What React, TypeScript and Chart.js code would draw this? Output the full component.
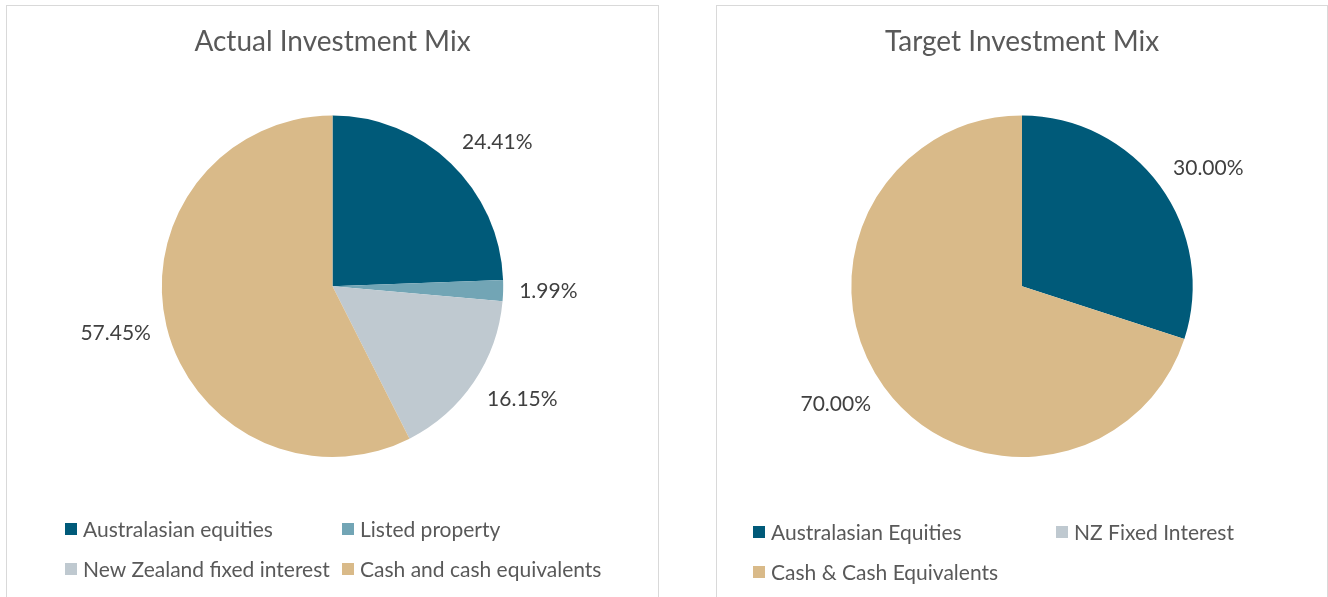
import React, { useEffect, useRef } from "react";
import { Chart, registerables } from "chart.js";

Chart.register(...registerables);

const actualTitle = "Actual Investment Mix";
const actualLabels = [
  "Australasian equities",
  "Listed property",
  "New Zealand fixed interest",
  "Cash and cash equivalents",
];
const actualValues = [24.41, 1.99, 16.15, 57.45];
const actualColors = ["#005A79", "#72A5B5", "#BFC9D0", "#D9BA89"];

const targetTitle = "Target Investment Mix";
const targetLabels = ["Australasian Equities", "NZ Fixed Interest", "Cash & Cash Equivalents"];
const targetValues = [30.0, 0, 70.0];
const targetColors = ["#005A79", "#BFC9D0", "#D9BA89"];

const FONT = "Lato, 'Open Sans', sans-serif";

const outsideLabels = {
  id: "outsideLabels",
  afterDatasetsDraw(chart: any) {
    const ctx = chart.ctx;
    const meta = chart.getDatasetMeta(0);
    const data = chart.data.datasets[0].data;
    const size = 21;
    ctx.save();
    ctx.font = `${size}px ${FONT}`;
    ctx.fillStyle = "#404040";
    ctx.textAlign = "center";
    ctx.textBaseline = "middle";
    meta.data.forEach((arc: any, i: number) => {
      const v = data[i];
      if (!v) return;
      const p = arc.getProps(["x", "y", "startAngle", "endAngle", "outerRadius"], true);
      const mid = (p.startAngle + p.endAngle) / 2;
      const R = p.outerRadius + 16;
      const ax = p.x + Math.cos(mid) * R;
      const ay = p.y + Math.sin(mid) * R;
      const text = v.toFixed(2) + "%";
      const w = ctx.measureText(text).width;
      const h = 20;
      const clamp = (t: number) => Math.max(-1, Math.min(1, t));
      const dx = (w / 2) * clamp(Math.cos(mid) / 0.5);
      const dy = (h / 2) * clamp(Math.sin(mid) / 0.7);
      ctx.fillText(text, ax + dx, ay + dy);
    });
    ctx.restore();
  },
};

const gridLegend = {
  id: "gridLegend",
  afterDraw(chart: any, _args: any, opts: any) {
    const ctx = chart.ctx;
    const labels = chart.data.labels as string[];
    const colors = chart.data.datasets[0].backgroundColor as string[];
    const cols: number[] = opts.cols;
    const rows: number[] = opts.rows;
    const box = 12;
    ctx.save();
    ctx.font = `21px ${FONT}`;
    ctx.fillStyle = "#595959";
    ctx.textBaseline = "middle";
    ctx.textAlign = "left";
    labels.forEach((lab, i) => {
      const x = cols[i % cols.length];
      const y = rows[Math.floor(i / cols.length)];
      ctx.fillStyle = colors[i];
      ctx.fillRect(x, y - box / 2, box, box);
      ctx.fillStyle = "#595959";
      ctx.fillText(lab, x + box + 6, y + 1);
    });
    ctx.restore();
  },
};

type PanelProps = {
  title: string;
  labels: string[];
  values: number[];
  colors: string[];
  cols: number[];
  rows: number[];
  left: number;
  width: number;
};

function Panel({ title, labels, values, colors, cols, rows, left, width }: PanelProps) {
  const ref = useRef<HTMLCanvasElement>(null);
  useEffect(() => {
    if (!ref.current) return;
    const chart = new Chart(ref.current, {
      type: "pie",
      data: {
        labels,
        datasets: [
          {
            data: values,
            backgroundColor: colors,
            borderWidth: 0,
          },
        ],
      },
      options: {
        animation: false,
        responsive: false,
        layout: { padding: { bottom: 139 } },
        plugins: {
          legend: { display: false },
          tooltip: { enabled: false },
          title: {
            display: true,
            text: title,
            color: "#595959",
            font: { family: FONT, size: 28, weight: "normal" },
            padding: { top: 19, bottom: 57 },
          },
          gridLegend: { cols, rows },
        } as any,
      },
      plugins: [outsideLabels, gridLegend],
    });
    return () => chart.destroy();
  }, []);
  const inner = width - 2;
  return (
    <div
      style={{
        position: "absolute",
        left,
        top: 5,
        width,
        height: 600,
        boxSizing: "border-box",
        border: "1px solid #D9D9D9",
        background: "#fff",
      }}
    >
      <canvas ref={ref} width={inner} height={590} style={{ display: "block", width: inner, height: 590 }} />
    </div>
  );
}

export default function App() {
  return (
    <div
      style={{
        position: "fixed",
        left: 0,
        top: 0,
        width: 1328,
        height: 597,
        overflow: "hidden",
        background: "#fff",
      }}
    >
      <Panel
        title={actualTitle}
        labels={actualLabels}
        values={actualValues}
        colors={actualColors}
        cols={[58, 335]}
        rows={[523, 563]}
        left={6}
        width={653}
      />
      <Panel
        title={targetTitle}
        labels={targetLabels}
        values={targetValues}
        colors={targetColors}
        cols={[36, 339]}
        rows={[526, 566]}
        left={716}
        width={612}
      />
    </div>
  );
}
